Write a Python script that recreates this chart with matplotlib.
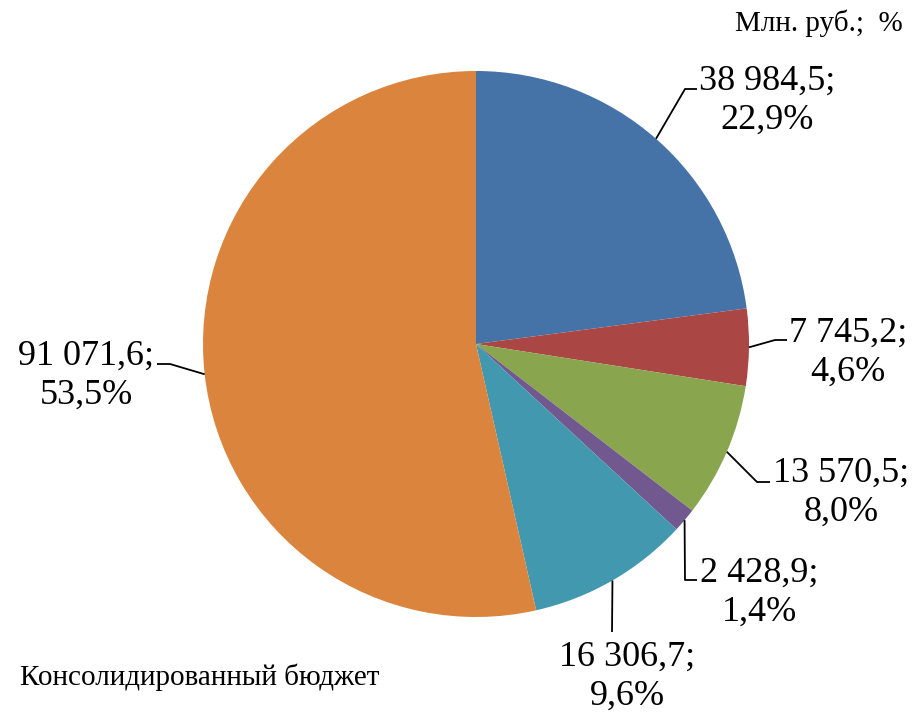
import numpy as np
import matplotlib.pyplot as plt

plt.rcParams['font.family'] = ['Liberation Serif', 'DejaVu Serif']

# данные (млн. руб.)
values = [38984.5, 7745.2, 13570.5, 2428.9, 16306.7, 91071.6]
value_labels = ['38 984,5;', '7 745,2;', '13 570,5;', '2 428,9;', '16 306,7;', '91 071,6;']
pct_labels = ['22,9%', '4,6%', '8,0%', '1,4%', '9,6%', '53,5%']
colors = ['#4572A7', '#AA4643', '#89A54E', '#71588F', '#4198AF', '#DB843D']

W, H = 920, 714
cx, cy, R = 476, 344, 273   # центр и радиус в пикселях картинки


def Y(y):
    # перевод из координат картинки (сверху вниз) в координаты осей
    return H - y


fig = plt.figure(figsize=(9.2, 7.14), dpi=100)
ax = fig.add_axes([0, 0, 1, 1])

wedges, _ = ax.pie(values, colors=colors, startangle=90, counterclock=False,
                   center=(cx, Y(cy)), radius=R, frame=True,
                   wedgeprops=dict(linewidth=0))
ax.set_xlim(0, W)
ax.set_ylim(0, H)
ax.set_axis_off()

# подписи: (излом линии, конец линии, позиция текста, выравнивание)
label_layout = [
    ((685, 89), (697, 89), (699, 101), 'left'),
    ((775, 340), (787, 340), (789, 353), 'left'),
    ((757, 482), (770, 482), (773, 493), 'left'),
    ((685, 580), (697, 580), (700, 593), 'left'),
    ((612, 632), (612, 632), (627, 677), 'center'),
    ((170, 364), (157, 364), (154, 376), 'right'),
]

for w, lab, pct, (knee, end, tpos, ha) in zip(wedges, value_labels, pct_labels, label_layout):
    ang = np.deg2rad((w.theta1 + w.theta2) / 2)
    x0 = cx + R * np.cos(ang)
    y0 = Y(cy) + R * np.sin(ang)
    ax.plot([x0, knee[0], end[0]], [y0, Y(knee[1]), Y(end[1])],
            color='black', lw=1.3, solid_capstyle='butt')
    ax.text(tpos[0], Y(tpos[1]), lab + '\n' + pct, ha=ha, va='center',
            multialignment='center', fontsize=26, linespacing=1.25)

ax.text(903, Y(23), 'Млн. руб.;  %', ha='right', va='center', fontsize=21)
ax.text(20, Y(677), 'Консолидированный бюджет', ha='left', va='center', fontsize=21)

fig.savefig('out.png', dpi=100)
